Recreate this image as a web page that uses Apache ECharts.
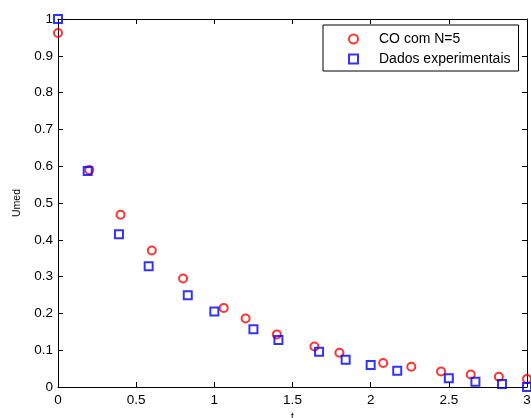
<!DOCTYPE html>
<html style="height: 100%">
<head>
  <meta charset="utf-8">
  <title>Umed x t</title>
</head>
<body style="height: 100%; margin: 0; background: #fff">
  <div id="container" style="height: 100%"></div>
  <script type="text/javascript" src="https://cdn.jsdelivr.net/npm/echarts@6/dist/echarts.min.js"></script>
  <script type="text/javascript">
    // CO com N=5
    var coT = [0, 0.2, 0.4, 0.6, 0.8, 1.06, 1.2, 1.4, 1.64, 1.8, 2.08, 2.26, 2.45, 2.64, 2.82, 3.0];
    var coU = [0.962, 0.59, 0.468, 0.371, 0.295, 0.215, 0.186, 0.143, 0.110, 0.093, 0.065, 0.055, 0.042, 0.034, 0.028, 0.022];
    // Dados experimentais
    var expT = [0, 0.19, 0.39, 0.58, 0.83, 1.0, 1.25, 1.41, 1.67, 1.84, 2.0, 2.17, 2.5, 2.67, 2.84, 3.0];
    var expU = [1.0, 0.587, 0.415, 0.328, 0.249, 0.205, 0.157, 0.128, 0.096, 0.074, 0.060, 0.044, 0.024, 0.014, 0.008, 0.0];

    function pairs(xs, ys) {
      return xs.map(function (x, i) { return [x, ys[i]]; });
    }

    var font = 'Liberation Sans, Arial, Helvetica, sans-serif';
    var dom = document.getElementById("container");
    var myChart = echarts.init(dom);

    var axisBase = {
      axisLine: { show: true, onZero: false, lineStyle: { color: '#000', width: 1 } },
      axisTick: { show: true, inside: true, length: 5, lineStyle: { color: '#000' } },
      splitLine: { show: false }
    };

    var option = {
      animation: false,
      backgroundColor: '#fff',
      textStyle: { fontFamily: font },
      grid: { left: 58, right: 4, top: 19, bottom: 31, outerBoundsMode: 'none', containLabel: false },
      legend: {
        orient: 'vertical',
        left: 323,
        top: 25,
        padding: [7, 8, 5, 25],
        itemWidth: 9,
        itemHeight: 9,
        itemGap: 6,
        borderColor: '#000',
        borderWidth: 1,
        backgroundColor: '#fff',
        textStyle: { fontFamily: font, fontSize: 14, lineHeight: 14, color: '#000', padding: [0, 0, 0, 16] },
        data: ['CO com N=5', 'Dados experimentais']
      },
      xAxis: [
        Object.assign({}, axisBase, {
          type: 'value', min: 0, max: 3, interval: 0.5, position: 'bottom',
          name: 't', nameLocation: 'middle', nameGap: 25,
          nameTextStyle: { fontFamily: font, fontSize: 10, color: '#000' },
          axisLabel: { fontFamily: font, fontSize: 13.5, color: '#000', margin: 6 }
        }),
        Object.assign({}, axisBase, {
          type: 'value', min: 0, max: 3, interval: 0.5, position: 'top',
          axisLabel: { show: false }
        })
      ],
      yAxis: [
        Object.assign({}, axisBase, {
          type: 'value', min: 0, max: 1, interval: 0.1, position: 'left',
          name: 'Umed', nameLocation: 'middle', nameGap: 35,
          nameTextStyle: { fontFamily: font, fontSize: 10.5, color: '#000' },
          axisLabel: { fontFamily: font, fontSize: 13.5, color: '#000', margin: 5 }
        }),
        Object.assign({}, axisBase, {
          type: 'value', min: 0, max: 1, interval: 0.1, position: 'right',
          axisLabel: { show: false }
        })
      ],
      series: [
        {
          name: 'CO com N=5',
          type: 'scatter',
          symbol: 'circle',
          symbolSize: 8,
          itemStyle: { color: 'rgba(0,0,0,0)', borderColor: '#ff0000', borderWidth: 2 },
          data: pairs(coT, coU)
        },
        {
          name: 'Dados experimentais',
          type: 'scatter',
          symbol: 'rect',
          symbolSize: 8,
          itemStyle: { color: 'rgba(0,0,0,0)', borderColor: '#0000ff', borderWidth: 2 },
          data: pairs(expT, expU)
        }
      ]
    };
    myChart.setOption(option, true);
  </script>
</body>
</html>
